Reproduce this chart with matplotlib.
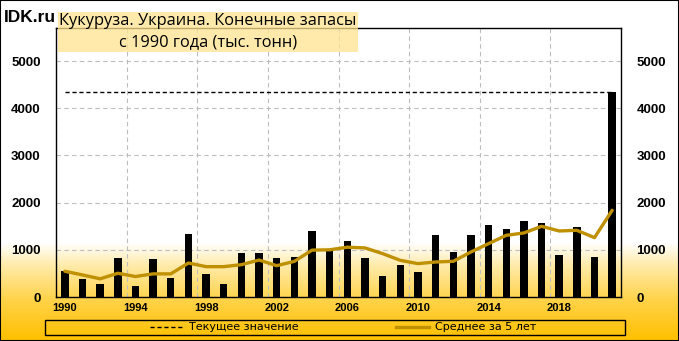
#!/usr/bin/env python3
"""Corn, Ukraine: ending stocks since 1990 (thousand tonnes)."""

import numpy as np
import matplotlib
matplotlib.use("Agg")
import matplotlib.pyplot as plt
from matplotlib.colors import LinearSegmentedColormap
from matplotlib.patches import Rectangle
from matplotlib.lines import Line2D

years = list(range(1990, 2022))
stocks = [559, 392, 266, 832, 224, 811, 413, 1336, 497, 266,
          937, 937, 832, 853, 1399, 979, 1195, 820, 438, 671,
          523, 1307, 947, 1307, 1519, 1435, 1604, 1562, 883, 1477,
          841, 4350]
avg5 = [545, 468, 385, 503, 434, 490, 490, 720, 643, 643,
        685, 783, 664, 755, 993, 1000, 1055, 1040, 919, 777,
        707, 742, 756, 954, 1131, 1307, 1357, 1498, 1399, 1413,
        1258, 1837]
current = stocks[-1]
tick_years = [1990, 1994, 1998, 2002, 2006, 2010, 2014, 2018]

title = "Кукуруза. Украина. Конечные запасы\nс 1990 года (тыс. тонн)"
legend_labels = ["Текущее значение", "Среднее за 5 лет"]

W, H = 679, 341
fig = plt.figure(figsize=(W / 100, H / 100), dpi=100)

# background: white on top, gold gradient at the bottom
bg = fig.add_axes([0, 0, 1, 1], zorder=-10)
bg.axis("off")
cmap = LinearSegmentedColormap.from_list(
    "gold", [(0, "#FFC000"), (0.12, "#FFD34A"), (0.22, "#FFEBAA"), (0.287, "#FFFFFF"), (1, "#FFFFFF")])
grad = np.linspace(0, 1, 400).reshape(-1, 1)
bg.imshow(grad, aspect="auto", cmap=cmap, origin="lower", extent=[0, 1, 0, 1])
bg.set_xlim(0, 1)
bg.set_ylim(0, 1)

ax = fig.add_axes([56 / W, 1 - 297 / H, (621 - 56) / W, (297 - 28) / H])
ax.set_facecolor("none")

x = np.arange(len(years))
ax.bar(x, stocks, width=0.42, color="black", zorder=3)
ax.plot([x[0], x[-1]], [current, current], color="black", lw=1.0,
        linestyle=(0, (3, 2)), zorder=4)
ax.plot(x, avg5, color="#BF9000", lw=2.4, solid_joinstyle="round",
        solid_capstyle="round", zorder=5)

ax.set_xlim(-0.42, len(years) - 0.62)
ax.set_ylim(0, 5700)
ax.set_yticks([0, 1000, 2000, 3000, 4000, 5000])
ax.set_xticks([years.index(y) for y in tick_years])
ax.set_xticklabels([str(y) for y in tick_years])
ax.set_xticks(np.arange(-0.5, len(years), 4), minor=True)

ax.set_axisbelow(True)
ax.yaxis.grid(True, which="major", color="#BDBDBD", linestyle=(0, (4, 3)), lw=0.8)
ax.xaxis.grid(True, which="minor", color="#BDBDBD", linestyle=(0, (4, 3)), lw=0.8)
ax.xaxis.grid(False, which="major")
ax.tick_params(axis="both", which="both", length=0)
ax.tick_params(axis="y", labelright=True, pad=11)
ax.tick_params(axis="x", pad=4)
for lab in ax.get_yticklabels() + ax.get_xticklabels():
    lab.set_fontfamily("Liberation Sans")
    lab.set_fontweight("bold")
for lab in ax.get_yticklabels():
    lab.set_fontsize(9.5)
for lab in ax.get_xticklabels():
    lab.set_fontsize(8)
for sp in ax.spines.values():
    sp.set_color("black")
    sp.set_linewidth(1.0)

# site mark and title box
fig.text(4 / W, 1 - 18 / H, "IDK.ru", fontsize=12.5, fontweight="bold",
         family="Liberation Sans", va="center", ha="left")
fig.patches.append(Rectangle((58 / W, 1 - 52 / H), 300 / W, 40 / H,
                             transform=fig.transFigure, facecolor="#FFE38F",
                             alpha=0.75, edgecolor="none", zorder=5))
for i, line in enumerate(title.split("\n")):
    fig.text(208 / W, 1 - (21 + 21 * i) / H, line, fontsize=11.8, family="Open Sans",
             ha="center", va="center", zorder=6)

# legend
fig.patches.append(Rectangle((45 / W, 1 - 335 / H), 580 / W, 15 / H,
                             transform=fig.transFigure, facecolor="none",
                             edgecolor="black", lw=1.0))
handles = [Line2D([], [], color="black", lw=1.0, linestyle=(0, (3, 2))),
           Line2D([], [], color="#BF9000", lw=2.4)]
fig.legend(handles, legend_labels, loc="center", ncol=2, frameon=False,
           bbox_to_anchor=(343 / W, 1 - 327.5 / H), handlelength=3.0,
           handletextpad=0.5, columnspacing=8.8,
           prop={"family": "DejaVu Sans", "size": 8})

fig.patches.append(Rectangle((0, 0), 1, 1, transform=fig.transFigure,
                             facecolor="none", edgecolor="black", lw=1.5))

fig.savefig("out.png", dpi=100)
